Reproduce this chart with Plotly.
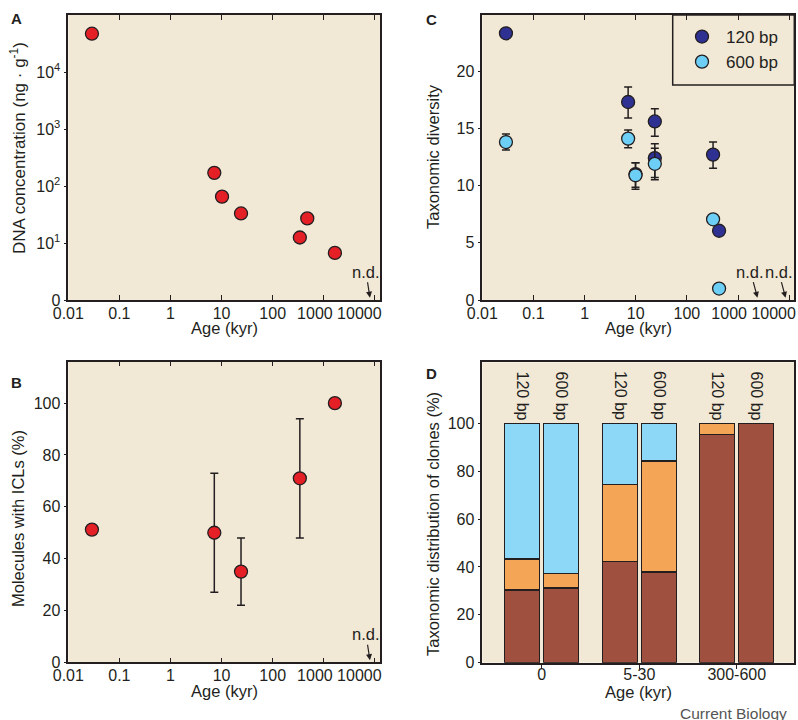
import math
import plotly.graph_objects as go

W, H = 798, 720
def px(x): return x / W
def py(y): return 1 - y / H

# ---------------- data ----------------
# Panel A
age_a = [0.029, 7.2, 10.2, 24, 340, 475, 1650]
dna_conc = [47000, 170, 65, 33, 12.5, 27, 6.7]
# Panel B
age_b = [0.029, 7.2, 24, 340, 1650]
icl_pct = [51.2, 50, 35, 71, 100]
icl_err = [0, 23, 13, 23, 0]
nd_age_ab = 8000
# Panel C
age_c120 = [0.029, 7.1, 9.9, 23.6, 23.6, 325, 426]
div_120 = [23.3, 17.3, 11.0, 15.6, 12.4, 12.7, 6.05]
div_120_hi = [0, 1.3, 1.0, 1.1, 1.25, 1.1, 0]
div_120_lo = [0, 1.4, 1.33, 1.3, 1.9, 1.2, 0]
age_c600 = [0.029, 7.1, 9.9, 23.6, 325, 426]
div_600 = [13.8, 14.1, 10.9, 11.9, 7.05, 1.0]
div_600_hi = [0.7, 0.75, 1.1, 1.35, 0, 0]
div_600_lo = [0.7, 0.8, 1.05, 1.2, 0, 0]
nd_age_c = [2400, 8500]
# Panel D
d_groups = ['0', '5-30', '300-600']
d_sizes = ['120 bp', '600 bp']
d_brown = [30.4, 31.2, 42.3, 37.9, 95.4, 100]
d_orange = [12.9, 6.1, 32.2, 46.4, 4.6, 0]
d_blue = [56.7, 62.7, 25.5, 15.7, 0, 0]

# tick labels
log_tickvals = [0.01, 0.1, 1, 10, 100, 1000, 10000]
log_ticktext = ["0.01", "0.1", "1", "10", "100", "1000", "10000"]
dna_tickvals = [1, 10, 100, 1000, 10000]
dna_ticktext = ["0", "10<sup>1</sup>", "10<sup>2</sup>", "10<sup>3</sup>", "10<sup>4</sup>"]

# ---------------- styles ----------------
FONT = "Liberation Sans, Arial, sans-serif"
INK = "#231F20"
BG = "#F2E8D6"
RED = "#E41F26"
NAVY = "#2E3192"
CYAN = "#6DCFF6"
BROWN = "#A0503F"
ORANGE = "#F4A556"
LBLUE = "#8DD7F7"

NB = "\u00a0"
log_ticktext_shifted = log_ticktext[:5] + [log_ticktext[5] + NB * 4, log_ticktext[6] + NB * 7]

fig = go.Figure()
mk = dict(size=13, line=dict(color=INK, width=1.3))
eb = dict(color=INK, thickness=1.5, width=4, visible=True, type="data")

fig.add_trace(go.Scatter(x=age_a, y=dna_conc, mode="markers",
                         marker=dict(color=RED, **mk), xaxis="x", yaxis="y",
                         showlegend=False))
fig.add_trace(go.Scatter(x=age_b, y=icl_pct, mode="markers",
                         marker=dict(color=RED, **mk),
                         error_y=dict(array=icl_err, **eb),
                         xaxis="x2", yaxis="y2", showlegend=False))
fig.add_trace(go.Scatter(x=age_c120, y=div_120, mode="markers", name="120 bp",
                         marker=dict(color=NAVY, **mk),
                         error_y=dict(symmetric=False, array=div_120_hi, arrayminus=div_120_lo, **eb),
                         xaxis="x3", yaxis="y3"))
fig.add_trace(go.Scatter(x=age_c600, y=div_600, mode="markers", name="600 bp",
                         marker=dict(color=CYAN, **mk),
                         error_y=dict(symmetric=False, array=div_600_hi, arrayminus=div_600_lo, **eb),
                         xaxis="x3", yaxis="y3"))
bar_x, bar_lbl = [], []
for gi, g in enumerate(d_groups):
    for si, s in enumerate(d_sizes):
        bar_x.append(gi + (si - 0.5) * 0.4)
        bar_lbl.append(s)
for vals, col in [(d_brown, BROWN), (d_orange, ORANGE), (d_blue, LBLUE)]:
    fig.add_trace(go.Bar(x=bar_x, y=vals, width=0.36,
                         marker=dict(color=col, line=dict(color=INK, width=1.2)),
                         xaxis="x4", yaxis="y4", showlegend=False))

tickfont = dict(family=FONT, size=16, color=INK)
common = dict(showgrid=False, zeroline=False, showline=True, linecolor=INK, linewidth=1.5,
              tickfont=tickfont, tickcolor=INK, tickwidth=1.3, automargin=False, tickangle=0,
              ticklabeloverflow="allow")

xA = dict(type="log", range=[-2, 4.1], tickvals=log_tickvals, ticktext=log_ticktext_shifted,
          ticks="inside", ticklen=5, mirror="ticks", ticklabelstandoff=-2, **common)
dom_x_left = [px(68.3), px(380)]
dom_x_right = [px(482.3), px(794.3)]
dom_y_top = [py(300), py(15)]

fig.update_layout(
    xaxis=dict(domain=dom_x_left, anchor="y", **xA),
    yaxis=dict(domain=dom_y_top, anchor="x", type="log", range=[0, 5],
               tickvals=dna_tickvals, ticktext=dna_ticktext,
               ticks="outside", ticklen=3, mirror=True, **common),
    xaxis2=dict(domain=dom_x_left, anchor="y2", **xA),
    yaxis2=dict(domain=[py(662.3), py(361.7)], anchor="x2", range=[0, 116],
                tickvals=[0, 20, 40, 60, 80, 100], ticks="outside", ticklen=3, mirror=True, **common),
    xaxis3=dict(domain=dom_x_right, anchor="y3", **xA),
    yaxis3=dict(domain=dom_y_top, anchor="x3", range=[0, 24.9],
                tickvals=[0, 5, 10, 15, 20], ticks="outside", ticklen=3, mirror=True, **common),
    xaxis4=dict(domain=dom_x_right, anchor="y4", range=[-0.61, 2.59],
                tickvals=[0, 1, 2], ticktext=d_groups, ticks="outside", ticklen=5, mirror=True,
                ticklabelstandoff=-9, **common),
    yaxis4=dict(domain=[py(662.7), py(362.3)], anchor="x4", range=[0, 125.5],
                tickvals=[0, 20, 40, 60, 80, 100], ticks="outside", ticklen=3, mirror=True, **common),
    barmode="stack",
    width=W, height=H,
    margin=dict(l=0, r=0, t=0, b=0),
    paper_bgcolor="white", plot_bgcolor=BG,
    font=dict(family=FONT, size=16, color=INK),
    showlegend=True,
    legend=dict(x=px(678), y=py(19), xanchor="left", yanchor="top", traceorder="normal",
                bgcolor="rgba(0,0,0,0)", borderwidth=0, itemwidth=38,
                font=dict(family=FONT, size=17, color=INK)),
)

fig.add_shape(type="rect", xref="paper", yref="paper", x0=px(672.7), x1=px(794.3),
              y0=py(85), y1=py(15), line=dict(color=INK, width=1.5))

ann = []
def text(x, y, s, size=16, angle=0, bold=False, color=INK):
    ann.append(dict(x=x, y=y, xref="paper", yref="paper", text=("<b>%s</b>" % s) if bold else s,
                    showarrow=False, textangle=angle, xanchor="center", yanchor="middle",
                    font=dict(family=FONT, size=size, color=color)))

text(px(16.7), py(18), "A", 15, bold=True)
text(px(16.7), py(382), "B", 15, bold=True)
text(px(431.7), py(19), "C", 15, bold=True)
text(px(431.7), py(373), "D", 15, bold=True)
text(px(224), py(328), "Age (kyr)", 16.5)
text(px(224), py(691), "Age (kyr)", 16.5)
text(px(638), py(328), "Age (kyr)", 16.5)
text(px(638), py(692), "Age (kyr)", 16.5)
text(px(18), py(148), "DNA concentration (ng · g<sup>-1</sup>)", 17, angle=-90)
text(px(18), py(519), "Molecules with ICLs (%)", 16.5, angle=-90)
text(px(433), py(157), "Taxonomic diversity", 16.5, angle=-90)
text(px(433), py(524), "Taxonomic distribution of clones (%)", 16.5, angle=-90)
text(px(733), py(713), "Current Biology", 15.5, color="#555555")

def nd(xref, yref, xv, yv, axoff=0):
    ann.append(dict(x=xv, y=yv, xref=xref, yref=yref, text="n.d.", showarrow=True,
                    arrowhead=2, arrowsize=1, arrowwidth=1.2, arrowcolor=INK,
                    ax=axoff, ay=-26, standoff=0,
                    font=dict(family=FONT, size=16.5, color=INK)))
nd("x", "y", math.log10(nd_age_ab), 0.04, -4)
nd("x2", "y2", math.log10(nd_age_ab), 0.8, -4)
for a in nd_age_c:
    nd("x3", "y3", math.log10(a), 0.2, -7)

for bx, bl in zip(bar_x, bar_lbl):
    ann.append(dict(x=bx, y=111.5, xref="x4", yref="y4", text=bl, showarrow=False,
                    textangle=90, font=dict(family=FONT, size=16, color=INK)))

fig.update_layout(annotations=ann)
fig.write_html("out.html", config={"displayModeBar": False},
               post_script="document.body.style.margin='0';document.body.style.overflow='hidden';")
